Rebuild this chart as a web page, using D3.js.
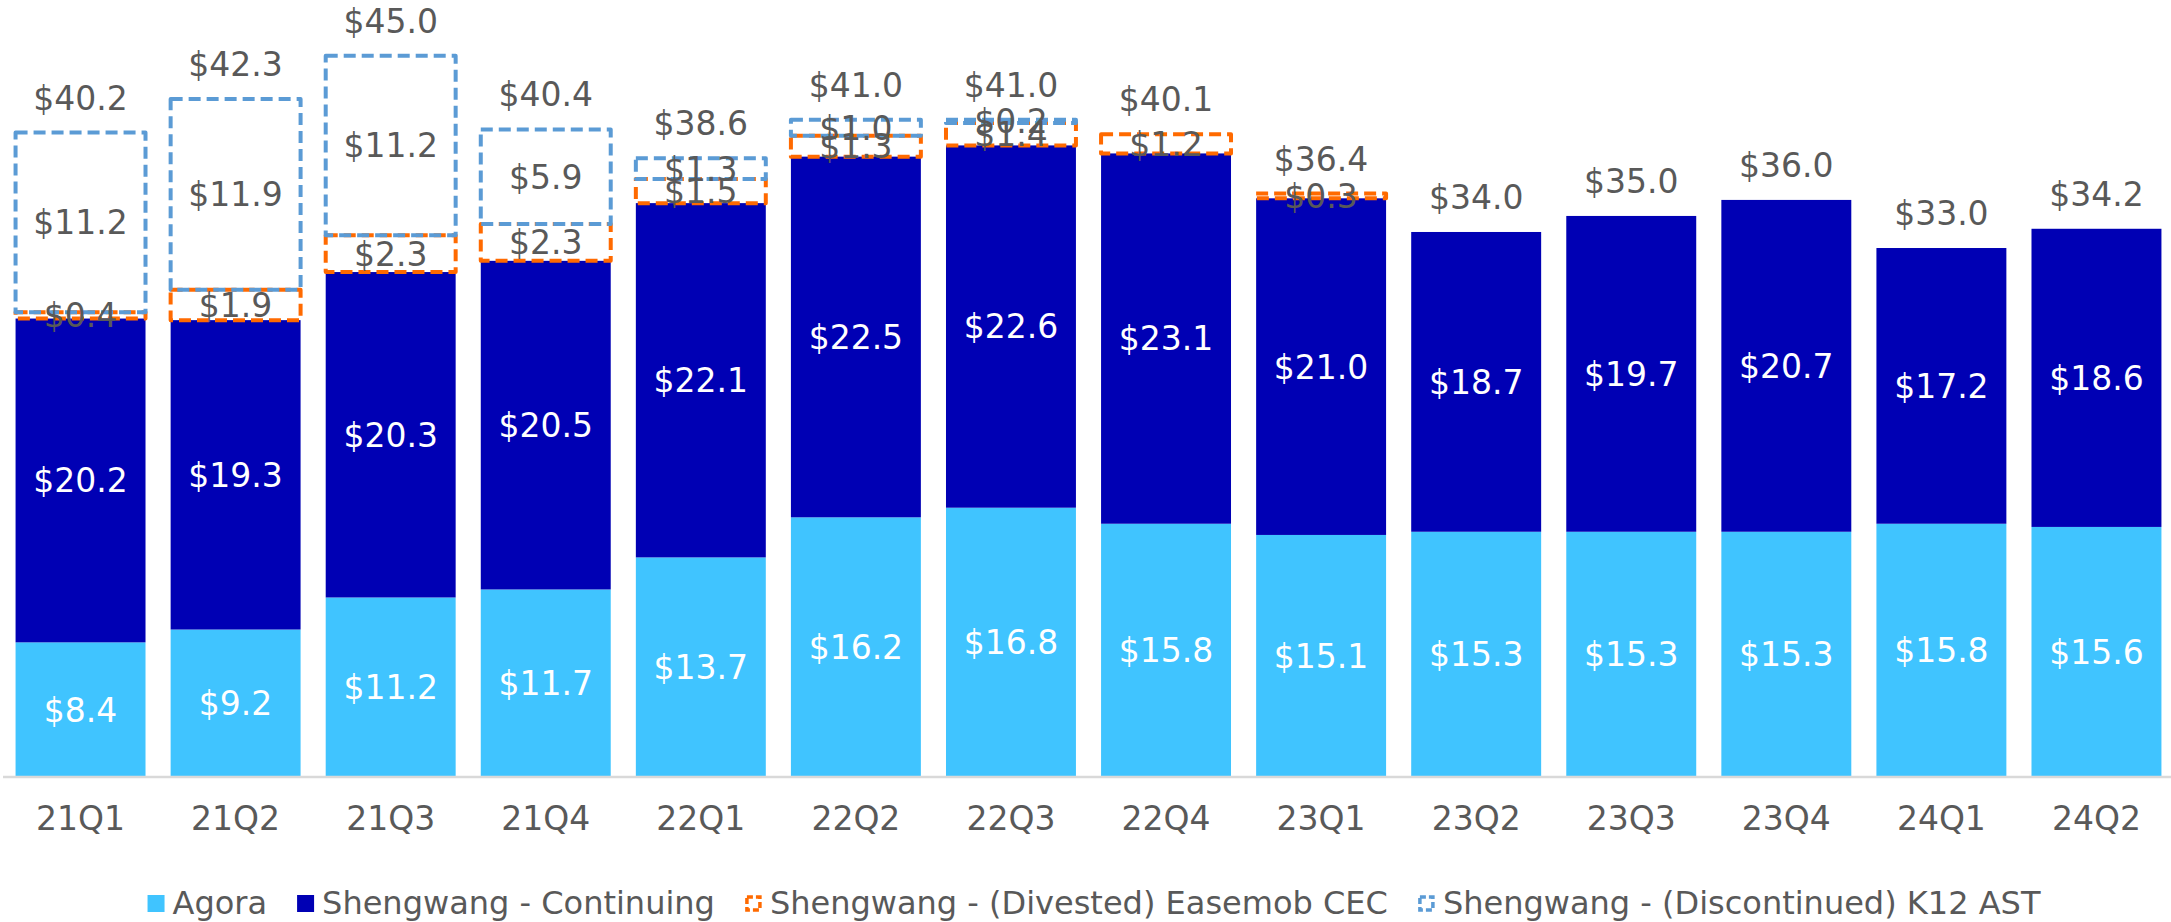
<!DOCTYPE html>
<html>

<head>
  <meta charset="utf-8">
  <script src="https://d3js.org/d3.v7.min.js"></script>
  <style>
    body {
      margin: 0;
      background: #fff;
      font-family: "DejaVu Sans", Verdana, sans-serif;
    }

    text {
      fill: #595959;
    }
  </style>
</head>

<body>
  <div id="chart"></div>
  <script>
    var quarters = ["21Q1", "21Q2", "21Q3", "21Q4", "22Q1", "22Q2", "22Q3", "22Q4",
      "23Q1", "23Q2", "23Q3", "23Q4", "24Q1", "24Q2"];
    var agora = [8.4, 9.2, 11.2, 11.7, 13.7, 16.2, 16.8, 15.8, 15.1, 15.3, 15.3, 15.3, 15.8, 15.6];
    var continuing = [20.2, 19.3, 20.3, 20.5, 22.1, 22.5, 22.6, 23.1, 21.0, 18.7, 19.7, 20.7, 17.2, 18.6];
    var easemob = [0.4, 1.9, 2.3, 2.3, 1.5, 1.3, 1.4, 1.2, 0.3, 0, 0, 0, 0, 0];
    var k12 = [11.2, 11.9, 11.2, 5.9, 1.3, 1.0, 0.2, 0, 0, 0, 0, 0, 0, 0];
    var totals = [40.2, 42.3, 45.0, 40.4, 38.6, 41.0, 41.0, 40.1, 36.4, 34.0, 35.0, 36.0, 33.0, 34.2];

    var seriesNames = ["Agora", "Shengwang - Continuing", "Shengwang - (Divested) Easemob CEC",
      "Shengwang - (Discontinued) K12 AST"];
    var seriesValues = [agora, continuing, easemob, k12];

    var width = 2171, height = 922;
    var fontSize = 33;

    var styles = [
      { fill: "#40C4FF", stroke: null, label: "#fff" },
      { fill: "#0000B4", stroke: null, label: "#fff" },
      { fill: "none", stroke: "#FF6A00", label: "#595959" },
      { fill: "none", stroke: "#5B9BD5", label: "#595959" }
    ];

    var svg = d3.select("#chart").append("svg")
      .attr("width", width)
      .attr("height", height);

    var x = d3.scaleBand()
      .domain(quarters)
      .range([3, 2174])
      .paddingInner(0.162)
      .paddingOuter(0.081);

    var y = d3.scaleLinear()
      .domain([0, 48])
      .range([777, 777 - 48 * 16.03]);

    // stack the series
    var rows = quarters.map(function (q, i) {
      var r = { q: q };
      seriesNames.forEach(function (s, j) { r[s] = seriesValues[j][i]; });
      return r;
    });
    var stacked = d3.stack().keys(seriesNames)(rows);

    var layers = svg.append("g").selectAll("g")
      .data(stacked)
      .join("g");

    layers.each(function (layer, j) {
      var st = styles[j];
      var sel = d3.select(this).selectAll("rect")
        .data(layer.filter(function (d) { return d[1] - d[0] > 0; }))
        .join("rect")
        .attr("x", function (d) { return x(d.data.q); })
        .attr("width", x.bandwidth())
        .attr("y", function (d) { return y(d[1]); })
        .attr("height", function (d) { return y(d[0]) - y(d[1]); })
        .attr("fill", st.fill);
      if (st.stroke) {
        sel.attr("stroke", st.stroke)
          .attr("stroke-width", 4)
          .attr("stroke-dasharray", "12,6")
          .attr("stroke-linejoin", "round");
      }
    });

    // segment labels
    var labels = svg.append("g");
    stacked.forEach(function (layer, j) {
      labels.selectAll(null)
        .data(layer.filter(function (d) { return d[1] - d[0] > 0; }))
        .join("text")
        .attr("x", function (d) { return x(d.data.q) + x.bandwidth() / 2; })
        .attr("y", function (d) { return y((d[0] + d[1]) / 2); })
        .attr("dy", "0.36em")
        .attr("text-anchor", "middle")
        .style("font-size", fontSize + "px")
        .style("fill", styles[j].label)
        .text(function (d) { return "$" + (d[1] - d[0]).toFixed(1); });
    });

    // totals
    svg.append("g").selectAll("text")
      .data(totals)
      .join("text")
      .attr("x", function (d, i) { return x(quarters[i]) + x.bandwidth() / 2; })
      .attr("y", function (d) { return y(d) - 23; })
      .attr("text-anchor", "middle")
      .style("font-size", fontSize + "px")
      .text(function (d) { return "$" + d.toFixed(1); });

    // x axis
    var xAxis = svg.append("g")
      .attr("transform", "translate(0,777)")
      .call(d3.axisBottom(x).tickSize(0).tickPadding(30));
    xAxis.select(".domain").remove();
    xAxis.selectAll("text")
      .style("font-size", fontSize + "px")
      .style("font-family", "DejaVu Sans, Verdana, sans-serif")
      .attr("fill", "#595959");
    svg.append("line")
      .attr("x1", 3).attr("x2", 2171)
      .attr("y1", 777).attr("y2", 777)
      .attr("stroke", "#D9D9D9")
      .attr("stroke-width", 2.5);

    // legend
    var legend = svg.append("g");
    var lx = 0;
    seriesNames.forEach(function (name, j) {
      var item = legend.append("g").attr("transform", "translate(" + lx + ",0)");
      var st = styles[j];
      if (st.stroke) {
        item.append("rect")
          .attr("x", 2).attr("y", 897).attr("width", 13).attr("height", 13)
          .attr("fill", "#fff")
          .attr("stroke", st.stroke)
          .attr("stroke-width", 3.5)
          .attr("stroke-dasharray", "6,3");
      } else {
        item.append("rect")
          .attr("x", 0).attr("y", 895).attr("width", 17).attr("height", 17)
          .attr("fill", st.fill);
      }
      var t = item.append("text")
        .attr("x", 25).attr("y", 914)
        .style("font-size", "32px")
        .text(name);
      lx += 25 + t.node().getComputedTextLength() + 30;
    });
    var legendWidth = lx - 30;
    legend.attr("transform", "translate(" + (1094 - legendWidth / 2) + ",0)");
  </script>
</body>

</html>
